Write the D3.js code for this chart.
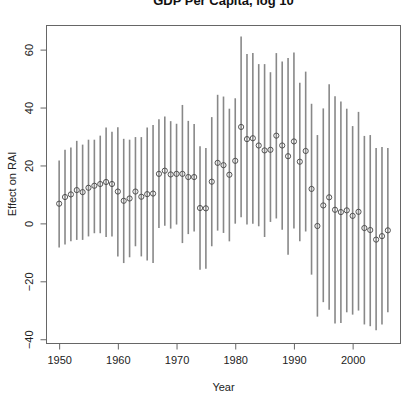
<!DOCTYPE html>
<html>
<head>
<meta charset="utf-8">
<script src="https://cdn.jsdelivr.net/npm/d3@7"></script>
<style>
  body { margin: 0; background: #fff; }
  svg { display: block; }
</style>
</head>
<body>
<div id="chart"></div>
<script>
// values
const years = d3.range(1950, 2007);
const estimate = [6.8, 9.1, 10.0, 11.5, 10.8, 12.3, 13.0, 13.6, 14.3, 13.6,
  11.0, 7.8, 8.6, 11.0, 9.2, 10.1, 10.3, 17.1, 18.2, 16.9,
  17.1, 17.1, 16.0, 16.0, 5.3, 5.2, 14.4, 20.9, 20.1, 16.8,
  21.6, 33.3, 29.1, 29.4, 26.9, 25.2, 25.4, 30.3, 26.9, 23.2,
  28.3, 21.3, 25.0, 11.9, -0.9, 6.2, 9.0, 4.7, 3.9, 4.5,
  2.6, 4.0, -1.6, -2.3, -5.6, -4.4, -2.4];
const upper = [21.7, 25.4, 26.2, 28.5, 27.2, 28.9, 28.9, 30.3, 33.1, 31.6,
  33.2, 29.2, 28.9, 29.8, 29.8, 33.1, 34.0, 36.0, 36.9, 35.3,
  34.4, 40.9, 35.4, 34.3, 26.6, 26.0, 36.7, 44.4, 43.8, 39.6,
  43.2, 64.5, 58.5, 58.8, 55.0, 55.0, 52.2, 58.8, 55.9, 57.1,
  59.0, 48.6, 52.4, 41.3, 30.5, 39.7, 48.0, 43.9, 42.1, 39.6,
  33.6, 38.5, 30.2, 30.5, 26.0, 26.4, 26.0];
const lower = [-8.3, -7.3, -6.2, -5.7, -5.7, -4.5, -3.4, -3.4, -4.7, -4.5,
  -11.4, -13.7, -11.7, -7.9, -11.4, -12.8, -13.7, -1.6, -0.8, -1.8,
  -0.4, -6.8, -3.7, -2.8, -16.0, -15.7, -7.9, -2.5, -3.3, -6.2,
  -0.1, 2.1, -0.4, -0.1, -1.0, -4.7, 0.5, 1.7, -2.2, -10.8,
  -1.8, -6.2, -2.8, -17.7, -32.2, -27.2, -29.8, -34.6, -34.4, -30.7,
  -31.5, -30.1, -34.9, -35.5, -36.9, -34.9, -30.7];
const xTicks = [1950, 1960, 1970, 1980, 1990, 2000];
const yTicks = [-40, -20, 0, 20, 40, 60];

const data = years.map((y, i) => ({year: y, est: estimate[i], lo: lower[i], hi: upper[i]}));

const width = 406, height = 402;
const margin = {top: 25, right: 5, bottom: 59, left: 46};

const svg = d3.select("#chart")
  .append("svg")
  .attr("width", width)
  .attr("height", height)
  .style("font-family", "'Liberation Sans', Arial, sans-serif");

const x = d3.scaleLinear().domain([1947.76, 2008.24]).range([margin.left, width - margin.right]);
const y = d3.scaleLinear().domain([-41.3, 68.5]).range([height - margin.bottom, margin.top]);

// interval lines
svg.append("g")
  .selectAll("line")
  .data(data)
  .join("line")
  .attr("x1", d => x(d.year))
  .attr("x2", d => x(d.year))
  .attr("y1", d => y(d.lo))
  .attr("y2", d => y(d.hi))
  .attr("stroke", "#888")
  .attr("stroke-width", 1.6);

// point estimates
svg.append("g")
  .selectAll("circle")
  .data(data)
  .join("circle")
  .attr("cx", d => x(d.year))
  .attr("cy", d => y(d.est))
  .attr("r", 2.6)
  .attr("fill", "none")
  .attr("stroke", "#444")
  .attr("stroke-width", 0.9);

// box
svg.append("rect")
  .attr("x", margin.left + 0.5)
  .attr("y", margin.top + 0.5)
  .attr("width", width - margin.left - margin.right - 1)
  .attr("height", height - margin.top - margin.bottom)
  .attr("fill", "none")
  .attr("stroke", "#666");

// x axis
const xAxis = svg.append("g")
  .attr("transform", `translate(0,${height - margin.bottom + 0.5})`)
  .call(d3.axisBottom(x).tickValues(xTicks).tickFormat(d3.format("d")).tickSize(6).tickPadding(7));
xAxis.select(".domain").attr("d", `M${x(1950)},0H${x(2000)}`).attr("stroke", "#666");
xAxis.selectAll(".tick line").attr("stroke", "#666");
xAxis.selectAll("text").style("font-size", "11px").attr("fill", "#222");

// y axis
const yAxis = svg.append("g")
  .attr("transform", `translate(${margin.left + 0.5},0)`)
  .call(d3.axisLeft(y).tickValues(yTicks).tickSize(6).tickFormat(d => d < 0 ? "\u2212" + Math.abs(d) : d));
yAxis.select(".domain").attr("d", `M0,${y(-40)}V${y(60)}`).attr("stroke", "#666");
yAxis.selectAll(".tick line").attr("stroke", "#666");
yAxis.selectAll(".tick text")
  .attr("x", null).attr("dy", null)
  .attr("text-anchor", "middle")
  .attr("transform", "translate(-14,0) rotate(-90)")
  .style("font-size", "11px")
  .attr("fill", "#222");

// labels
svg.append("text")
  .attr("x", (margin.left + width - margin.right) / 2)
  .attr("y", 5)
  .attr("text-anchor", "middle")
  .style("font-size", "13px")
  .style("font-weight", "bold")
  .attr("fill", "#111")
  .text("GDP Per Capita, log 10");

svg.append("text")
  .attr("x", (margin.left + width - margin.right) / 2)
  .attr("y", 391)
  .attr("text-anchor", "middle")
  .style("font-size", "11px")
  .attr("fill", "#222")
  .text("Year");

svg.append("text")
  .attr("transform", `translate(16,${(margin.top + height - margin.bottom) / 2}) rotate(-90)`)
  .attr("text-anchor", "middle")
  .style("font-size", "11px")
  .attr("fill", "#222")
  .text("Effect on RAI");
</script>
</body>
</html>
